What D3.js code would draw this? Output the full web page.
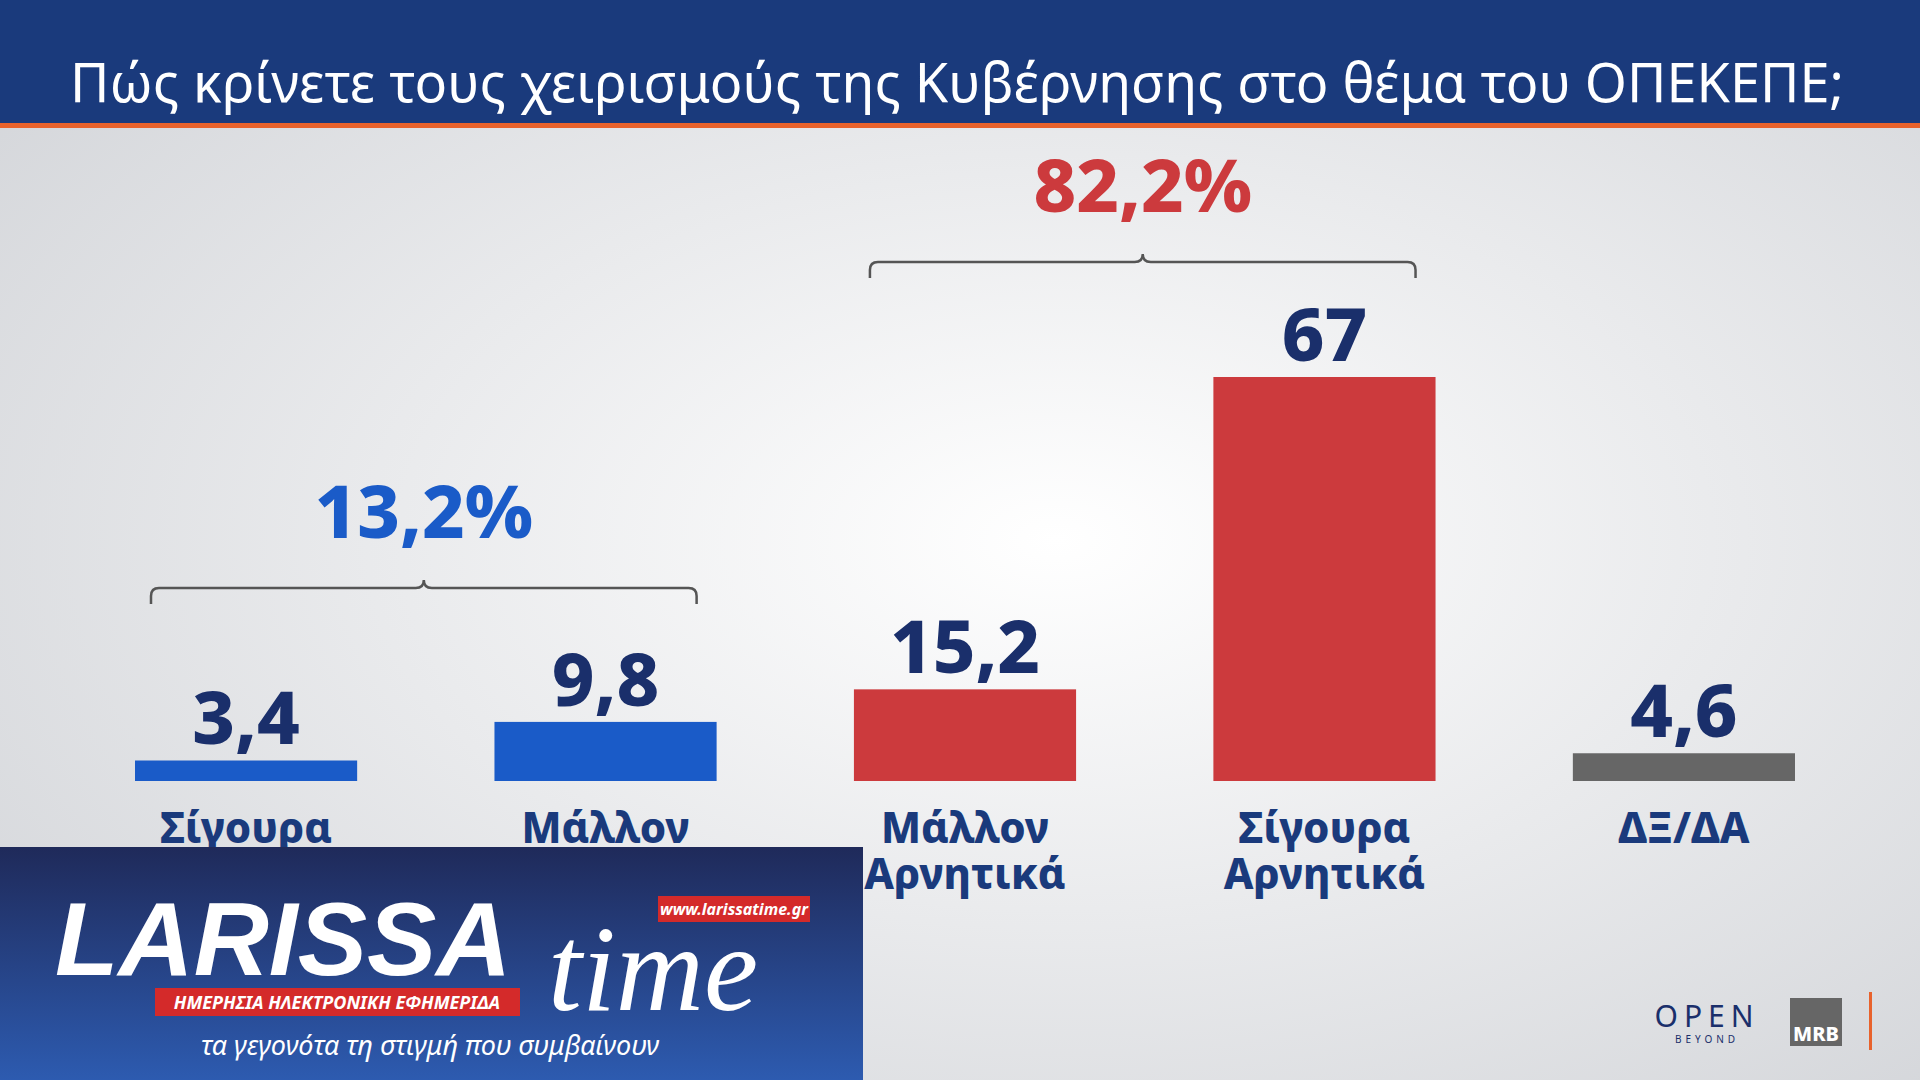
<!DOCTYPE html>
<html><head><meta charset="utf-8">
<script src="https://cdn.jsdelivr.net/npm/d3@7"></script>
<style>body{margin:0;overflow:hidden;font-family:"Noto Sans",sans-serif}</style>
</head><body>
<script>
  // data
  var categories = ["Σίγουρα", "Μάλλον", "Μάλλον\nΑρνητικά", "Σίγουρα\nΑρνητικά", "ΔΞ/ΔΑ"];
  var values = [3.4, 9.8, 15.2, 67, 4.6];
  var barColors = ["#1a5bc8", "#1a5bc8", "#cc3a3d", "#cc3a3d", "#666666"];
  var groups = [
    {label: "13,2%", from: 0, to: 1, color: "#1a5bc8"},
    {label: "82,2%", from: 2, to: 3, color: "#cc3a3d"}
  ];
  var title = "Πώς κρίνετε τους χειρισμούς της Κυβέρνησης στο θέμα του ΟΠΕΚΕΠΕ;";

  var width = 1920, height = 1080;
  var svg = d3.select("body").append("svg").attr("width", width).attr("height", height);

  var defs = svg.append("defs");
  var bg = defs.append("radialGradient").attr("id", "bg").attr("cx", "0.55").attr("cy", "0.5").attr("r", "0.7");
  bg.append("stop").attr("offset", "0").attr("stop-color", "#ffffff");
  bg.append("stop").attr("offset", "1").attr("stop-color", "#d4d6da");
  var lg = defs.append("linearGradient").attr("id", "logo").attr("x1", 0).attr("y1", 0).attr("x2", 0).attr("y2", 1);
  lg.append("stop").attr("offset", "0").attr("stop-color", "#1f2a5a");
  lg.append("stop").attr("offset", "1").attr("stop-color", "#2d5bb0");

  svg.append("rect").attr("width", width).attr("height", height).attr("fill", "url(#bg)");
  svg.append("rect").attr("width", width).attr("height", 124).attr("fill", "#1a3a7c");
  svg.append("rect").attr("y", 123).attr("width", width).attr("height", 5).attr("fill", "#e8622c");
  svg.append("text").attr("x", 957).attr("y", 102).attr("text-anchor", "middle")
    .attr("fill", "#fff").attr("font-size", 54).text(title);

  var x = d3.scaleBand().domain(categories).range([135, 1795]).paddingInner(0.382).paddingOuter(0);
  var y = d3.scaleLinear().domain([0, 67]).range([781, 377]);

  svg.selectAll(".bar").data(values).enter().append("rect")
    .attr("x", (d, i) => x(categories[i])).attr("width", x.bandwidth())
    .attr("y", d => y(d)).attr("height", d => y(0) - y(d))
    .attr("fill", (d, i) => barColors[i]);

  svg.selectAll(".val").data(values).enter().append("text")
    .attr("x", (d, i) => x(categories[i]) + x.bandwidth() / 2)
    .attr("y", d => y(d) - 16).attr("text-anchor", "middle")
    .attr("fill", "#1a2f6b").attr("font-size", 74).attr("font-weight", 800)
    .text(d => String(d).replace(".", ","));

  categories.forEach(function(c, i) {
    var t = svg.append("text").attr("text-anchor", "middle").attr("fill", "#1a3a7c")
      .attr("font-size", 42).attr("font-weight", 800);
    c.split("\n").forEach(function(line, j) {
      t.append("tspan").attr("x", x(c) + x.bandwidth() / 2).attr("y", 843 + j * 46).text(line);
    });
  });

  // brackets
  groups.forEach(function(g) {
    var x0 = x(categories[g.from]) + 16, x1 = x(categories[g.to]) + x.bandwidth() - 20;
    var yb = g.from === 0 ? 588 : 262, mid = (x0 + x1) / 2;
    svg.append("path").attr("fill", "none").attr("stroke", "#555").attr("stroke-width", 2.5)
      .attr("d", `M${x0},${yb + 16} L${x0},${yb + 8} Q${x0},${yb} ${x0 + 8},${yb} L${mid - 8},${yb} Q${mid},${yb} ${mid},${yb - 8} Q${mid},${yb} ${mid + 8},${yb} L${x1 - 8},${yb} Q${x1},${yb} ${x1},${yb + 8} L${x1},${yb + 16}`);
    svg.append("text").attr("x", mid).attr("y", yb - 50).attr("text-anchor", "middle")
      .attr("fill", g.color).attr("font-size", 74).attr("font-weight", 800).text(g.label);
  });

  // logo box
  var lb = svg.append("g");
  lb.append("rect").attr("x", 0).attr("y", 847).attr("width", 863).attr("height", 233).attr("fill", "url(#logo)");
  lb.append("text").attr("x", 55).attr("y", 975).attr("fill", "#fff").attr("font-size", 104)
    .attr("font-weight", 900).attr("font-style", "italic").attr("font-family", "Liberation Sans").text("LARISSA");
  lb.append("text").attr("x", 548).attr("y", 1010).attr("fill", "#fff").attr("font-size", 122)
    .attr("font-style", "italic").attr("font-family", "Liberation Serif").text("time");
  lb.append("rect").attr("x", 658).attr("y", 896).attr("width", 152).attr("height", 26).attr("fill", "#d42a2a");
  lb.append("text").attr("x", 734).attr("y", 915).attr("text-anchor", "middle").attr("fill", "#fff")
    .attr("font-size", 16).attr("font-weight", 700).attr("font-style", "italic").text("www.larissatime.gr");
  lb.append("rect").attr("x", 155).attr("y", 988).attr("width", 365).attr("height", 28).attr("fill", "#d42a2a");
  lb.append("text").attr("x", 337).attr("y", 1009).attr("text-anchor", "middle").attr("fill", "#fff")
    .attr("font-size", 18).attr("font-weight", 700).attr("font-style", "italic").text("ΗΜΕΡΗΣΙΑ ΗΛΕΚΤΡΟΝΙΚΗ ΕΦΗΜΕΡΙΔΑ");
  lb.append("text").attr("x", 430).attr("y", 1055).attr("text-anchor", "middle").attr("fill", "#fff")
    .attr("font-size", 27).attr("font-style", "italic").text("τα γεγονότα τη στιγμή που συμβαίνουν");

  // broadcaster marks
  svg.append("text").attr("x", 1707).attr("y", 1027).attr("text-anchor", "middle").attr("fill", "#1a2f6b")
    .attr("font-size", 30).attr("letter-spacing", 6).text("OPEN");
  svg.append("text").attr("x", 1707).attr("y", 1043).attr("text-anchor", "middle").attr("fill", "#1a2f6b")
    .attr("font-size", 10).attr("letter-spacing", 4).text("BEYOND");
  svg.append("rect").attr("x", 1790).attr("y", 998).attr("width", 52).attr("height", 48).attr("fill", "#666");
  svg.append("text").attr("x", 1816).attr("y", 1041).attr("text-anchor", "middle").attr("fill", "#fff")
    .attr("font-size", 20).attr("font-weight", 800).text("MRB");
  svg.append("rect").attr("x", 1869).attr("y", 992).attr("width", 3).attr("height", 58).attr("fill", "#e8622c");
</script>
</body></html>
